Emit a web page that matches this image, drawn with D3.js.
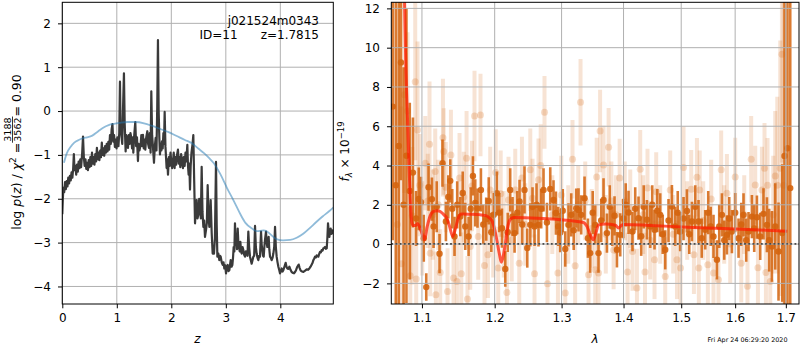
<!DOCTYPE html>
<html>
<head>
<meta charset="utf-8">
<script src="https://cdn.jsdelivr.net/npm/d3@7/dist/d3.min.js"></script>
<style>
  body { margin: 0; background: #fff; }
  svg { display: block; font-family: "DejaVu Sans", sans-serif; }
</style>
</head>
<body>
<svg id="chart" width="800" height="350"></svg>
<script>
// ---------------- redshift probability (left panel) ----------------
const zGrid = [0.000,0.010,0.020,0.035,0.050,0.065,0.080,0.095,0.110,0.125,0.140,0.155,0.170,0.185,0.200,0.212,0.225,0.240,0.255,0.270,0.285,0.300,0.315,0.330,0.345,0.365,0.380,0.395,0.410,0.425,0.440,0.455,0.470,0.485,0.500,0.515,0.530,0.545,0.560,0.575,0.590,0.605,0.620,0.635,0.650,0.665,0.680,0.695,0.710,0.725,0.740,0.755,0.770,0.785,0.800,0.815,0.830,0.845,0.860,0.875,0.890,0.905,0.920,0.935,0.950,0.965,0.980,0.995,1.010,1.030,1.045,1.058,1.070,1.083,1.100,1.115,1.131,1.145,1.162,1.175,1.190,1.205,1.220,1.235,1.250,1.266,1.280,1.295,1.303,1.320,1.339,1.355,1.370,1.388,1.400,1.415,1.437,1.450,1.465,1.480,1.495,1.510,1.523,1.540,1.560,1.575,1.590,1.605,1.620,1.633,1.648,1.665,1.682,1.698,1.713,1.728,1.742,1.755,1.768,1.780,1.792,1.805,1.818,1.829,1.842,1.855,1.866,1.878,1.892,1.914,1.925,1.939,1.955,1.970,1.985,2.000,2.015,2.031,2.045,2.060,2.075,2.090,2.105,2.122,2.138,2.150,2.165,2.180,2.197,2.214,2.228,2.245,2.260,2.275,2.294,2.306,2.318,2.330,2.343,2.355,2.370,2.390,2.404,2.420,2.435,2.450,2.465,2.480,2.496,2.512,2.527,2.542,2.557,2.572,2.588,2.603,2.618,2.637,2.652,2.667,2.683,2.698,2.710,2.722,2.741,2.759,2.771,2.783,2.800,2.820,2.833,2.845,2.863,2.881,2.895,2.906,2.925,2.943,2.958,2.973,2.988,3.004,3.019,3.034,3.050,3.065,3.078,3.089,3.105,3.120,3.132,3.144,3.157,3.168,3.181,3.193,3.205,3.218,3.230,3.242,3.255,3.267,3.280,3.291,3.307,3.322,3.337,3.352,3.368,3.383,3.398,3.413,3.428,3.444,3.459,3.474,3.490,3.505,3.520,3.536,3.551,3.566,3.582,3.597,3.612,3.627,3.646,3.658,3.670,3.683,3.695,3.707,3.719,3.737,3.750,3.762,3.774,3.786,3.798,3.811,3.826,3.841,3.857,3.872,3.888,3.903,3.918,3.933,3.949,3.964,3.979,3.994,4.010,4.025,4.040,4.055,4.075,4.098,4.113,4.129,4.148,4.166,4.187,4.208,4.230,4.251,4.270,4.288,4.312,4.337,4.355,4.374,4.400,4.423,4.455,4.484,4.510,4.533,4.555,4.576,4.592,4.606,4.622,4.637,4.652,4.667,4.683,4.698,4.713,4.728,4.745,4.759,4.775,4.790,4.805,4.820,4.836,4.851,4.863,4.875,4.888,4.900,4.912,4.924,4.937,4.949,4.961,4.972];
const logPz = [-2.35,-2.00,-1.75,-1.85,-1.62,-1.78,-1.60,-1.72,-1.52,-1.65,-1.48,-1.58,-1.40,-1.52,-1.30,-0.98,-1.35,-1.25,-1.45,-1.22,-1.38,-1.15,-1.30,-1.10,-1.28,-0.95,-0.58,-1.05,-1.25,-1.10,-1.32,-1.18,-1.35,-1.12,-1.28,-1.05,-1.25,-0.95,-1.20,-1.05,-1.22,-0.98,-1.15,-0.84,-1.10,-0.95,-1.12,-0.90,-1.05,-0.72,-1.00,-0.85,-1.02,-0.80,-0.95,-0.75,-0.92,-0.70,-0.88,-0.55,-0.75,-0.42,-0.30,-0.70,-0.55,-0.82,-0.65,-0.85,-0.60,-0.80,-0.50,0.67,-0.40,-0.54,-0.75,0.10,0.86,-0.30,-0.92,-0.55,-0.62,-0.84,-0.55,-0.75,-0.50,-0.61,-0.85,-0.60,-0.95,-0.55,-0.25,-0.80,-0.60,-1.14,-0.75,-0.90,-0.77,-0.55,-0.80,-0.54,-0.85,-0.65,-0.88,-0.60,-0.46,-0.75,-0.84,-0.50,-0.95,0.45,-0.55,-0.85,-1.18,-0.80,-0.61,-0.90,0.10,1.62,0.00,-0.60,-0.99,-0.75,-0.90,-0.69,-0.85,-0.50,-0.75,-0.02,-0.80,-1.30,-1.10,-1.45,-1.05,-1.25,-0.95,-1.15,-1.30,-1.14,-0.95,-1.30,-1.05,-1.22,-1.00,-0.88,-1.20,-1.05,-1.28,-0.98,-1.15,-1.30,-1.05,-1.25,-0.95,-1.15,-0.77,-1.25,-1.45,-1.20,-1.79,-1.25,-0.95,-0.75,-0.55,-1.60,-2.56,-2.25,-2.03,-2.45,-2.37,-2.00,-2.18,-2.45,-1.27,-2.30,-2.64,-2.50,-2.87,-2.71,-2.55,-1.69,-2.40,-2.64,-2.45,-2.03,-2.79,-3.25,-3.10,-3.25,-2.90,-1.16,-2.60,-3.32,-3.25,-3.40,-3.30,-3.32,-3.45,-3.51,-3.45,-3.59,-3.52,-3.70,-3.55,-3.51,-3.65,-3.63,-3.50,-3.40,-3.55,-3.51,-3.35,-3.10,-3.20,-2.56,-3.05,-2.94,-3.15,-2.68,-3.00,-3.10,-3.20,-2.98,-3.20,-3.25,-3.10,-3.17,-3.28,-3.32,-3.20,-3.21,-3.30,-2.75,-3.10,-3.32,-3.40,-3.48,-3.40,-3.32,-3.30,-2.62,-3.10,-3.25,-3.35,-3.40,-3.30,-3.32,-2.75,-3.05,-3.17,-3.30,-3.32,-3.10,-2.94,-2.75,-3.00,-3.10,-3.00,-2.87,-3.15,-3.32,-3.35,-3.40,-3.35,-3.25,-3.10,-2.64,-3.10,-3.32,-3.45,-3.55,-3.62,-3.70,-3.65,-3.59,-3.66,-3.63,-3.55,-3.46,-3.55,-3.59,-3.60,-3.55,-3.62,-3.67,-3.69,-3.70,-3.67,-3.63,-3.55,-3.50,-3.58,-3.64,-3.66,-3.67,-3.64,-3.61,-3.62,-3.59,-3.55,-3.50,-3.46,-3.40,-3.36,-3.32,-3.34,-3.29,-3.31,-3.32,-3.26,-3.21,-3.22,-3.17,-3.18,-3.13,-3.12,-3.10,-3.14,-3.13,-2.90,-2.56,-2.75,-2.87,-2.75,-2.68,-2.80,-2.79,-2.72,-2.75];

// smooth prior curve
const priorZ = [0.03,0.08,0.15,0.22,0.30,0.38,0.45,0.55,0.65,0.75,0.85,0.95,1.05,1.20,1.35,1.50,1.65,1.80,1.95,2.10,2.25,2.36,2.50,2.60,2.70,2.78,2.90,3.02,3.15,3.27,3.36,3.48,3.57,3.69,3.75,3.81,3.93,4.05,4.18,4.30,4.42,4.54,4.66,4.78,4.90,4.972];
const priorLogP = [-1.18,-0.97,-0.82,-0.72,-0.66,-0.62,-0.60,-0.56,-0.47,-0.38,-0.32,-0.29,-0.27,-0.25,-0.25,-0.28,-0.34,-0.41,-0.48,-0.57,-0.66,-0.72,-0.86,-0.96,-1.08,-1.19,-1.44,-1.75,-2.06,-2.36,-2.55,-2.68,-2.74,-2.72,-2.74,-2.80,-2.92,-2.95,-2.94,-2.89,-2.80,-2.67,-2.53,-2.40,-2.28,-2.20];

const zTicks = [0, 1, 2, 3, 4];
const pTicks = [-4, -3, -2, -1, 0, 1, 2];

// ---------------- spectrum (right panel), flux in 1e-19 units ----------------
const darkWave = [1.0622,1.0661,1.0699,1.0727,1.0761,1.0798,1.0841,1.0882,1.0923,1.0958,1.0987,1.1024,1.1057,1.1087,1.1132,1.1154,1.1196,1.1234,1.1274,1.1320,1.1352,1.1379,1.1406,1.1437,1.1474,1.1516,1.1550,1.1585,1.1631,1.1661,1.1692,1.1724,1.1756,1.1804,1.1837,1.1879,1.1915,1.1951,1.1987,1.2032,1.2066,1.2105,1.2153,1.2189,1.2225,1.2259,1.2289,1.2328,1.2362,1.2402,1.2436,1.2477,1.2522,1.2556,1.2586,1.2616,1.2646,1.2687,1.2722,1.2774,1.2825,1.2875,1.2912,1.2948,1.2979,1.3018,1.3057,1.3108,1.3151,1.3190,1.3230,1.3266,1.3309,1.3362,1.3416,1.3453,1.3493,1.3534,1.3587,1.3631,1.3669,1.3725,1.3771,1.3812,1.3850,1.3890,1.3945,1.3995,1.4037,1.4084,1.4151,1.4197,1.4253,1.4299,1.4342,1.4397,1.4454,1.4489,1.4529,1.4576,1.4628,1.4672,1.4716,1.4774,1.4834,1.4893,1.4938,1.4982,1.5042,1.5103,1.5145,1.5194,1.5254,1.5314,1.5373,1.5437,1.5493,1.5539,1.5591,1.5655,1.5698,1.5749,1.5792,1.5843,1.5887,1.5938,1.6001,1.6065,1.6117,1.6161,1.6213,1.6258,1.6324,1.6369,1.6422,1.6487,1.6552,1.6620,1.6665,1.6719,1.6786,1.6852,1.6927,1.6973,1.7034,1.7090];
const darkFlux = [7.0,3.0,5.0,9.25,2.0,4.5,2.7,3.64,1.3,2.3,2.13,0.3,-2.19,2.9,2.29,0.9,1.9,-0.49,4.12,1.15,2.4,3.22,1.8,0.39,2.0,1.4,2.6,0.9,0.39,1.8,3.47,2.1,1.83,2.76,1.0,1.27,2.2,0.6,1.5,2.59,1.6,0.81,-1.27,0.6,2.76,1.4,0.56,1.6,2.17,1.0,2.76,-0.2,0.98,1.9,0.9,2.0,0.98,1.8,2.76,1.1,2.81,2.25,1.58,0.9,0.59,1.7,-0.25,0.98,1.49,0.7,1.83,1.74,1.49,2.34,0.3,-0.46,1.6,0.98,-0.46,1.2,2.25,0.56,1.9,0.9,1.44,-0.29,0.47,1.3,2.0,1.61,0.64,1.8,1.32,0.4,1.9,1.24,0.9,2.0,0.73,1.7,1.49,0.5,-0.29,1.2,1.91,0.9,1.6,0.64,1.3,1.69,0.5,1.15,1.9,1.15,0.3,0.73,1.6,0.9,0.39,-0.8,0.9,1.49,0.2,0.47,1.3,0.64,1.6,0.3,1.0,1.49,0.2,0.64,1.4,0.8,1.37,0.39,1.54,0.98,0.2,-0.12,0.9,-0.38,0.56,4.49,4.88,2.85];
const darkErr = [6.8,9.5,8.5,6.0,7.0,7.5,4.5,2.8,1.4,1.6,1.3,1.2,0.7,1.2,1.1,1.1,1.3,1.0,1.2,1.0,1.1,1.1,1.0,1.0,1.2,1.0,1.1,1.2,1.0,1.1,1.0,1.2,1.0,1.1,1.0,1.1,1.2,1.0,1.1,1.1,1.0,1.0,0.9,1.0,1.1,1.0,1.0,1.1,1.1,1.0,1.2,1.0,1.1,1.0,1.0,1.1,1.1,1.0,1.1,1.0,1.1,1.0,1.1,1.0,1.0,1.1,0.9,1.1,1.1,1.0,1.0,1.1,1.0,1.1,1.0,1.0,1.1,1.0,1.0,1.1,1.1,1.0,1.1,1.0,1.0,0.9,1.1,1.0,1.1,1.1,1.0,1.1,1.1,1.0,1.1,1.0,1.1,1.0,1.0,1.1,1.1,1.0,1.0,1.1,1.1,1.0,1.1,1.0,1.1,1.1,1.0,1.0,1.1,1.1,1.0,1.0,1.1,1.0,1.1,1.0,1.1,1.1,1.0,1.0,1.1,1.1,1.0,1.0,1.1,1.1,1.1,1.0,1.1,1.2,1.1,1.2,1.3,1.4,1.6,1.8,2.2,2.5,3.5,12,12,12];

const lightWave = [1.0680,1.0731,1.0770,1.0812,1.0847,1.0873,1.0912,1.0925,1.0942,1.0971,1.1004,1.1044,1.1077,1.1100,1.1109,1.1143,1.1176,1.1185,1.1217,1.1243,1.1280,1.1290,1.1318,1.1342,1.1388,1.1424,1.1470,1.1506,1.1530,1.1564,1.1603,1.1616,1.1654,1.1678,1.1714,1.1766,1.1798,1.1855,1.1903,1.1936,1.1979,1.2015,1.2051,1.2087,1.2130,1.2177,1.2200,1.2247,1.2299,1.2358,1.2398,1.2447,1.2522,1.2556,1.2586,1.2646,1.2679,1.2737,1.2783,1.2856,1.2943,1.2995,1.3057,1.3104,1.3171,1.3213,1.3261,1.3298,1.3373,1.3426,1.3477,1.3534,1.3558,1.3587,1.3613,1.3669,1.3706,1.3752,1.3797,1.3835,1.3872,1.3935,1.4021,1.4068,1.4113,1.4151,1.4226,1.4282,1.4333,1.4364,1.4407,1.4454,1.4529,1.4558,1.4628,1.4716,1.4804,1.4857,1.4924,1.4988,1.5042,1.5108,1.5181,1.5230,1.5285,1.5320,1.5336,1.5400,1.5486,1.5548,1.5591,1.5684,1.5735,1.5792,1.5843,1.5906,1.6001,1.6117,1.6175,1.6238,1.6310,1.6389,1.6442,1.6521,1.6572,1.6600,1.6632,1.6686,1.6746,1.6786,1.6827,1.6887,1.6921,1.6953];
const lightFlux = [1.0,-1.0,7.6,6.78,-1.61,1.44,8.27,-1.78,5.81,3.0,0.8,4.12,2.2,5.08,-0.46,1.5,3.69,-2.58,2.0,-1.44,5.42,4.71,2.9,-2.41,4.54,-1.73,-1.9,3.36,-1.51,2.4,4.37,-2.8,-0.12,2.96,6.52,0.39,6.57,-1.09,-0.54,2.76,0.5,3.65,-1.22,2.56,0.5,-2.46,2.25,0.2,2.76,-0.97,3.36,1.0,3.78,2.34,-1.51,3.27,4.0,6.71,-2.02,1.5,-1.47,2.5,-2.49,1.0,4.32,-1.1,2.0,7.22,2.2,-1.56,0.8,-1.31,3.41,-1.47,5.76,4.03,0.5,4.93,2.2,-0.3,1.5,3.36,2.2,-1.42,1.8,-0.38,-2.24,3.81,1.5,-1.42,2.85,0.2,-0.8,2.67,1.0,-1.65,2.76,0.5,-0.8,-1.22,3.9,1.2,2.79,-0.54,3.4,-1.22,2.76,1.2,-1.05,2.29,-1.47,-1.81,3.78,1.0,2.59,0.0,3.41,-0.97,1.5,-2.15,4.32,3.01,-1.2,2.76,3.86,-1.44,3.0,-1.9,1.5,3.47,3.0,3.86,9.66,3.0];
const lightErr = [9,8,5,4,3.5,3.5,4,2.6,4.5,2.6,2.4,2.4,2.4,3.2,2.2,2.3,2.2,2.2,2.3,2.2,3.0,2.2,2.3,2.2,2.3,2.2,2.2,2.3,2.1,2.3,2.4,2.2,2.2,2.3,2.3,2.2,2.1,2.2,2.2,2.2,2.2,2.2,2.1,2.2,2.2,2.1,2.2,2.1,2.1,2.1,2.1,2.1,2.1,2.0,2.0,2.1,2.1,1.85,2.0,2.0,2.0,2.0,2.0,2.0,2.0,2.0,2.0,2.2,2.0,2.0,2.0,2.0,2.0,2.0,2.1,2.0,2.0,2.0,2.0,2.0,2.0,2.0,2.0,2.0,2.0,2.0,2.0,2.0,2.0,2.0,2.0,2.0,2.0,2.0,2.0,2.0,2.0,2.0,2.0,2.0,2.1,2.0,2.0,2.0,2.0,2.0,2.0,2.0,2.0,2.0,2.0,2.0,2.0,2.0,2.0,2.0,2.0,2.0,2.0,2.0,2.2,2.0,2.1,2.2,2.3,2.3,2.4,2.6,3.0,3.3,4.5,6.5,5.5,9.5];

// best-fit model
const modelWave = [1.0755,1.0790,1.0815,1.0835,1.0850,1.0869,1.0886,1.0919,1.0942,1.0971,1.1004,1.1034,1.1070,1.1110,1.1154,1.1203,1.1244,1.1290,1.1333,1.1370,1.1413,1.1451,1.1488,1.1534,1.1646,1.1782,1.1874,1.1919,1.1966,1.2003,1.2035,1.2068,1.2096,1.2124,1.2152,1.2185,1.2223,1.2270,1.2632,1.3127,1.3346,1.3400,1.3450,1.3503,1.3548,1.3587,1.3697,1.3864,1.3918,1.3963,1.4002,1.4450,1.5210,1.5900,1.6480,1.7028];
const modelFlux = [16.0,9.0,6.0,3.6,2.0,1.07,0.95,0.95,1.05,0.85,0.5,0.22,0.9,1.45,1.66,1.70,1.66,1.50,1.32,0.90,0.39,0.80,1.32,1.53,1.52,1.50,1.45,1.35,1.15,0.70,0.13,-0.50,-0.92,-0.60,-0.03,0.80,1.24,1.35,1.32,1.20,1.10,0.90,0.50,0.22,0.60,0.98,1.02,0.96,0.82,0.95,1.00,0.95,0.85,0.78,0.72,0.66];

const waveTicks = [1.1, 1.2, 1.3, 1.4, 1.5, 1.6, 1.7];
const fluxTicks = [-2, 0, 2, 4, 6, 8, 10, 12];

// ---------------- layout ----------------
const svg = d3.select("#chart");
const PT = 2.3, PB = 304;
const boxL = { x0: 62.3, x1: 333.3 };
const boxR = { x0: 391.3, x1: 799 };
const ORANGE = "#d4640e";
const GRID = "#b0b0b0";
const FONT = "DejaVu Sans, sans-serif";

const xZ = d3.scaleLinear().domain([0, 4.972]).range([boxL.x0, boxL.x1]);
const yP = d3.scaleLinear().domain([-4.40, 2.48]).range([PB, PT]);
const xW = d3.scaleLog().domain([1.0604, 1.727]).range([boxR.x0, boxR.x1]);
const yF = d3.scaleLinear().domain([-3.05, 12.31]).range([PB, PT]);

const defs = svg.append("defs");
[["clipL", boxL], ["clipR", boxR]].forEach(([id, b]) => {
  defs.append("clipPath").attr("id", id).append("rect")
    .attr("x", b.x0).attr("y", PT).attr("width", b.x1 - b.x0).attr("height", PB - PT);
});

const minusFmt = d => (d < 0 ? "\u2212" + Math.abs(d) : String(d));

function drawGrid(g, xScale, xTicks, yScale, yTicks, box) {
  g.selectAll(".gx").data(xTicks).join("line").attr("class", "gx")
    .attr("x1", d => xScale(d)).attr("x2", d => xScale(d)).attr("y1", PT).attr("y2", PB)
    .attr("stroke", GRID).attr("stroke-width", 1);
  g.selectAll(".gy").data(yTicks).join("line").attr("class", "gy")
    .attr("x1", box.x0).attr("x2", box.x1).attr("y1", d => yScale(d)).attr("y2", d => yScale(d))
    .attr("stroke", GRID).attr("stroke-width", 1);
}

function drawAxes(xScale, xTicks, xFmt, yScale, yTicks, yFmt, box) {
  const ax = svg.append("g").attr("transform", `translate(0,${PB})`)
    .call(d3.axisBottom(xScale).tickValues(xTicks).tickFormat(xFmt).tickSize(4.3).tickPadding(5));
  const ay = svg.append("g").attr("transform", `translate(${box.x0},0)`)
    .call(d3.axisLeft(yScale).tickValues(yTicks).tickFormat(yFmt).tickSize(4.3).tickPadding(7));
  [ax, ay].forEach(a => {
    a.select(".domain").remove();
    a.attr("font-family", FONT).attr("font-size", 12);
    a.selectAll("line").attr("stroke", "#000").attr("stroke-width", 1);
    a.selectAll("text").attr("fill", "#000");
  });
  svg.append("rect").attr("x", box.x0).attr("y", PT)
    .attr("width", box.x1 - box.x0).attr("height", PB - PT)
    .attr("fill", "none").attr("stroke", "#000").attr("stroke-width", 1);
}

// ---------------- left panel ----------------
const gL = svg.append("g");
drawGrid(gL.append("g"), xZ, zTicks, yP, pTicks, boxL);
const gLdata = gL.append("g").attr("clip-path", "url(#clipL)");

const pzLine = d3.line().x(d => xZ(d[0])).y(d => yP(d[1]));
gLdata.append("path")
  .datum(zGrid.map((z, i) => [z, logPz[i]]))
  .attr("d", pzLine).attr("fill", "none")
  .attr("stroke", "#3a3a3a").attr("stroke-width", 2.2).attr("stroke-linejoin", "round");

const priorLine = d3.line().x(d => xZ(d[0])).y(d => yP(d[1])).curve(d3.curveMonotoneX);
gLdata.append("path")
  .datum(priorZ.map((z, i) => [z, priorLogP[i]]))
  .attr("d", priorLine).attr("fill", "none")
  .attr("stroke", "#1f77b4").attr("stroke-opacity", 0.5).attr("stroke-width", 1.8);

drawAxes(xZ, zTicks, d3.format("d"), yP, pTicks, minusFmt, boxL);

// object label
svg.append("text").attr("x", 319).attr("y", 24.5).attr("text-anchor", "end")
  .attr("font-size", 12).attr("font-family", FONT).text("j021524m0343");
svg.append("text").attr("x", 199.5).attr("y", 39).attr("text-anchor", "start")
  .attr("font-size", 12).attr("font-family", FONT).text("ID=11");
svg.append("text").attr("x", 319).attr("y", 39).attr("text-anchor", "end")
  .attr("font-size", 12).attr("font-family", FONT).text("z=1.7815");

// ---------------- right panel ----------------
const gR = svg.append("g");
const gRdata = gR.append("g").attr("clip-path", "url(#clipR)");

const lightPts = lightWave.map((w, i) => ({ w, f: lightFlux[i], e: lightErr[i] }));
const darkPts = darkWave.map((w, i) => ({ w, f: darkFlux[i], e: darkErr[i] }));

function errorbars(g, pts, width, barOpacity, radius, dotOpacity) {
  g.append("g").selectAll("line").data(pts).join("line")
    .attr("x1", d => xW(d.w)).attr("x2", d => xW(d.w))
    .attr("y1", d => yF(d.f - d.e)).attr("y2", d => yF(d.f + d.e))
    .attr("stroke", ORANGE).attr("stroke-width", width).attr("stroke-opacity", barOpacity);
  g.append("g").selectAll("circle").data(pts).join("circle")
    .attr("cx", d => xW(d.w)).attr("cy", d => yF(d.f)).attr("r", radius)
    .attr("fill", ORANGE).attr("fill-opacity", dotOpacity);
}
errorbars(gRdata, lightPts, 4, 0.18, 3.5, 0.22);
errorbars(gRdata, darkPts, 2.6, 0.85, 3.2, 0.9);

drawGrid(gR.append("g"), xW, waveTicks, yF, fluxTicks, boxR);

const modelLine = d3.line().x(d => xW(d[0])).y(d => yF(d[1])).curve(d3.curveMonotoneX);
gRdata.append("path")
  .datum(modelWave.map((w, i) => [w, modelFlux[i]]))
  .attr("d", modelLine).attr("fill", "none")
  .attr("stroke", "#ff1a00").attr("stroke-opacity", 0.72).attr("stroke-width", 3)
  .attr("stroke-linejoin", "round");

gRdata.append("line")
  .attr("x1", boxR.x0).attr("x2", boxR.x1).attr("y1", yF(0)).attr("y2", yF(0))
  .attr("stroke", "#000").attr("stroke-width", 2).attr("stroke-dasharray", "1.8,2.4");

drawAxes(xW, waveTicks, d3.format(".1f"), yF, fluxTicks, minusFmt, boxR);

// ---------------- axis titles ----------------
svg.append("text").attr("x", 197.5).attr("y", 343).attr("text-anchor", "middle")
  .attr("font-size", 12).attr("font-style", "italic").attr("font-family", FONT).text("z");
svg.append("text").attr("x", 595).attr("y", 343).attr("text-anchor", "middle")
  .attr("font-size", 12).attr("font-style", "italic").attr("font-family", FONT).text("λ");

// left y title: log p(z) / χ² = 3188/3562 = 0.90
(function () {
  const g = svg.append("g").attr("font-family", FONT);
  const t1 = g.append("text").attr("font-size", 12.5);
  t1.append("tspan").text("log ");
  t1.append("tspan").attr("font-style", "italic").text("p");
  t1.append("tspan").text("(");
  t1.append("tspan").attr("font-style", "italic").text("z");
  t1.append("tspan").text(") / ");
  t1.append("tspan").attr("font-style", "italic").text("χ");
  t1.append("tspan").attr("dy", -5).attr("font-size", 9).text("2");
  t1.append("tspan").attr("dy", 5).text(" = ");
  const w1 = t1.node().getComputedTextLength();
  const num = g.append("text").attr("font-size", 9.5).attr("text-anchor", "middle").text("3188");
  const den = g.append("text").attr("font-size", 9.5).attr("text-anchor", "middle").text("3562");
  const wf = Math.max(num.node().getComputedTextLength(), den.node().getComputedTextLength()) + 2;
  const cx = w1 + wf / 2;
  num.attr("x", cx).attr("y", -9.5);
  den.attr("x", cx).attr("y", 0.5);
  g.append("line").attr("x1", w1).attr("x2", w1 + wf).attr("y1", -8).attr("y2", -8)
    .attr("stroke", "#000").attr("stroke-width", 0.8);
  const t2 = g.append("text").attr("font-size", 12.5).attr("x", w1 + wf).text(" = 0.90");
  const total = w1 + wf + t2.node().getComputedTextLength();
  g.attr("transform", `translate(20.5,${152 + total / 2}) rotate(-90)`);
})();

// right y title: f_λ × 10^-19
(function () {
  const g = svg.append("g").attr("font-family", FONT);
  const t = g.append("text").attr("font-size", 12);
  t.append("tspan").attr("font-style", "italic").text("f");
  t.append("tspan").attr("font-style", "italic").attr("font-size", 8.5).attr("dy", 2.5).text("λ");
  t.append("tspan").attr("dy", -2.5).text(" × 10");
  t.append("tspan").attr("font-size", 8.5).attr("dy", -5).text("\u221219");
  const w = t.node().getComputedTextLength();
  g.attr("transform", `translate(349,${151.5 + w / 2}) rotate(-90)`);
})();

// timestamp
svg.append("text").attr("x", 787.5).attr("y", 341.5).attr("text-anchor", "end")
  .attr("font-size", 6.4).attr("font-family", FONT).text("Fri Apr 24 06:29:20 2020");
</script>
</body>
</html>
